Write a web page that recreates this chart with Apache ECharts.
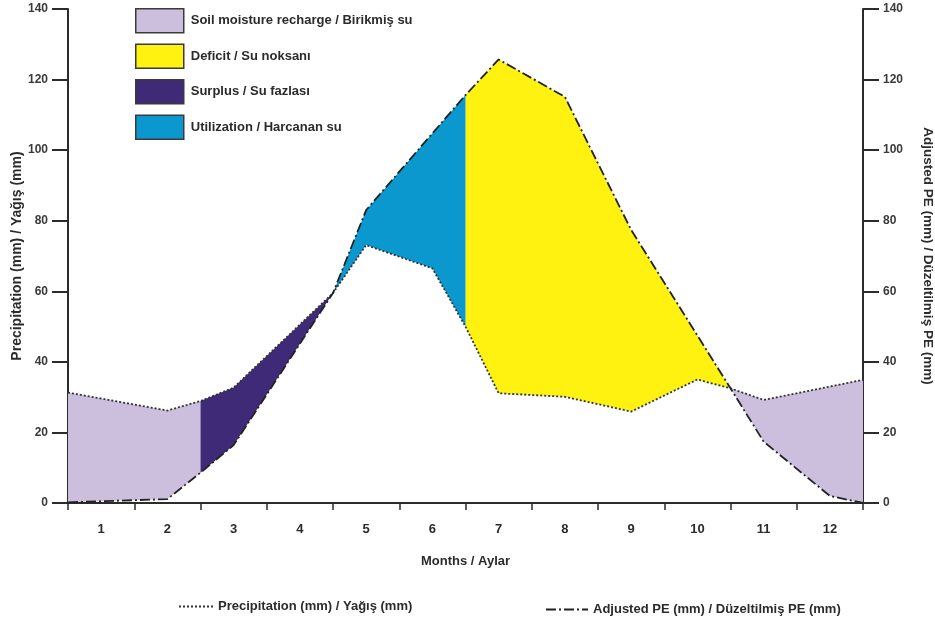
<!DOCTYPE html>
<html>
<head>
<meta charset="utf-8">
<script src="https://cdn.jsdelivr.net/npm/echarts@6/dist/echarts.min.js"></script>
<style>
  html, body { margin: 0; padding: 0; background: #ffffff; }
  #chart { width: 935px; height: 619px; }
</style>
</head>
<body>
<div id="chart"></div>
<script>
// Month labels on the category axis
const monthLabels = ['1', '2', '3', '4', '5', '6', '7', '8', '9', '10', '11', '12'];

// Precipitation vertices: [month position, mm]  (x.5 = boundary between months)
const precipitation = [
  [0.5, 31.3], [2, 26.2], [2.5, 28.9], [3, 32.7], [4.5, 59.5], [5, 73.1],
  [6, 66.5], [6.5, 50.0], [7, 31.1], [8, 30.1], [9, 25.9], [10, 35.0],
  [10.5, 32.5], [11, 29.2], [12.5, 34.9]
];

// Adjusted potential evapotranspiration vertices: [month position, mm]
const adjustedPE = [
  [0.5, 0.2], [2, 1.1], [2.5, 8.6], [3, 16.4], [4.5, 59.5], [5, 83.0],
  [6.5, 115.6], [7, 125.7], [8, 115.1], [9, 77.4], [10.5, 32.5],
  [11, 17.4], [12, 2.0], [12.5, 0]
];

// Water balance periods: [from, to] in month positions
const rechargeSpans = [[0.5, 2.5], [10.5, 12.5]];
const surplusSpans = [[2.5, 4.5]];
const utilizationSpans = [[4.5, 6.5]];
const deficitSpans = [[6.5, 10.5]];

const NAME_RECHARGE = 'Soil moisture recharge / Birikmiş su';
const NAME_DEFICIT = 'Deficit / Su noksanı';
const NAME_SURPLUS = 'Surplus / Su fazlası';
const NAME_UTIL = 'Utilization / Harcanan su';
const NAME_PRECIP = 'Precipitation (mm) / Yağış (mm)';
const NAME_PE = 'Adjusted PE (mm) / Düzeltilmiş PE (mm)';

const FONT = "'Liberation Sans', Arial, sans-serif";
const INK = '#2b2b2b';

// Fill the band between the precipitation and PE curves over one span
function bandRenderer(params, api) {
  const from = api.value(0);
  const to = api.value(1);
  const inSpan = p => p[0] >= from - 1e-9 && p[0] <= to + 1e-9;
  const upper = precipitation.filter(inSpan).map(p => api.coord(p));
  const lower = adjustedPE.filter(inSpan).reverse().map(p => api.coord(p));
  return {
    type: 'polygon',
    shape: { points: upper.concat(lower) },
    style: { fill: api.visual('color') }
  };
}

function bandSeries(name, spans, color) {
  return {
    name: name,
    type: 'custom',
    xAxisIndex: 1,
    yAxisIndex: 0,
    renderItem: bandRenderer,
    encode: { x: [0, 1] },
    itemStyle: { color: color },
    silent: true,
    z: 1,
    data: spans
  };
}

const yAxisBase = {
  type: 'value',
  min: 0,
  max: 140,
  interval: 20,
  splitLine: { show: false },
  axisLine: { show: true, lineStyle: { color: INK, width: 2 } },
  axisTick: { show: true, length: 16, lineStyle: { color: INK, width: 2 } },
  axisLabel: { color: '#3a3a3a', fontFamily: FONT, fontWeight: 'bold', fontSize: 12, margin: 20 },
  nameLocation: 'middle',
  nameMoveOverlap: false
};

// Line-sample legends below the plot (line only, no marker)
function lineLegend(left, top, width, name) {
  return {
    left: left,
    top: top,
    padding: 0,
    itemWidth: width,
    itemHeight: 10,
    selectedMode: false,
    data: [name],
    itemStyle: { opacity: 0 },
    textStyle: { color: INK, fontFamily: FONT, fontWeight: 'bold', fontSize: 13 }
  };
}

const chart = echarts.init(document.getElementById('chart'), null, { renderer: 'canvas' });

chart.setOption({
  animation: false,
  backgroundColor: '#ffffff',
  grid: { left: 68, right: 72, top: 9, bottom: 116, containLabel: false, outerBoundsMode: 'none' },
  legend: [
    {
      orient: 'vertical',
      left: 135,
      top: 8,
      padding: 0,
      itemWidth: 48,
      itemHeight: 24,
      itemGap: 10,
      icon: 'rect',
      selectedMode: false,
      data: [NAME_RECHARGE, NAME_DEFICIT, NAME_SURPLUS, NAME_UTIL],
      itemStyle: { borderColor: '#3a3a3a', borderWidth: 1.5 },
      textStyle: { color: INK, fontFamily: FONT, fontWeight: 'bold', fontSize: 13, padding: [0, 0, 0, 2] }
    },
    lineLegend(178, 600, 34, NAME_PRECIP),
    lineLegend(545, 603, 42, NAME_PE)
  ],
  xAxis: [
    {
      type: 'category',
      data: monthLabels,
      boundaryGap: true,
      position: 'bottom',
      axisLine: { lineStyle: { color: INK, width: 2 } },
      axisTick: { show: true, length: 7, lineStyle: { color: INK, width: 1.5 } },
      axisLabel: { color: INK, fontFamily: FONT, fontWeight: 'bold', fontSize: 13, margin: 20 },
      name: 'Months / Aylar',
      nameLocation: 'middle',
      nameGap: 52,
      nameMoveOverlap: false,
      nameTextStyle: { color: INK, fontFamily: FONT, fontWeight: 'bold', fontSize: 13 }
    },
    {
      type: 'value',
      min: 0.5,
      max: 12.5,
      show: false
    }
  ],
  yAxis: [
    Object.assign({}, yAxisBase, {
      position: 'left',
      name: 'Precipitation (mm) / Yağış (mm)',
      nameGap: 44,
      nameRotate: 90,
      nameTextStyle: { color: INK, fontFamily: FONT, fontWeight: 'bold', fontSize: 14 }
    }),
    Object.assign({}, yAxisBase, {
      position: 'right',
      name: 'Adjusted PE (mm) / Düzeltilmiş PE (mm)',
      nameGap: 58,
      nameRotate: -90,
      nameTextStyle: { color: INK, fontFamily: FONT, fontWeight: 'bold', fontSize: 13.5 }
    })
  ],
  series: [
    bandSeries(NAME_RECHARGE, rechargeSpans, '#cbbfdd'),
    bandSeries(NAME_DEFICIT, deficitSpans, '#fff110'),
    bandSeries(NAME_SURPLUS, surplusSpans, '#3f2a78'),
    bandSeries(NAME_UTIL, utilizationSpans, '#0a98cf'),
    {
      name: NAME_PRECIP,
      type: 'line',
      xAxisIndex: 1,
      yAxisIndex: 0,
      data: precipitation,
      symbol: 'none',
      z: 5,
      itemStyle: { color: '#333333' },
      lineStyle: { color: '#333333', width: 1.8, type: [2, 2] }
    },
    {
      name: NAME_PE,
      type: 'line',
      xAxisIndex: 1,
      yAxisIndex: 0,
      data: adjustedPE,
      symbol: 'none',
      z: 6,
      itemStyle: { color: '#222222' },
      lineStyle: { color: '#222222', width: 1.8, type: [10, 3, 2, 3] }
    }
  ]
});
</script>
</body>
</html>
